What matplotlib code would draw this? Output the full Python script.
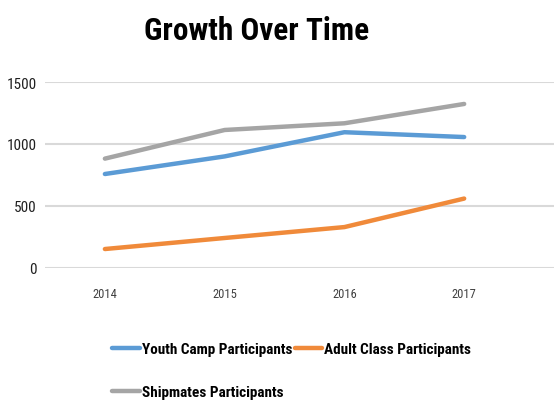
import matplotlib
matplotlib.use('Agg')
import matplotlib.pyplot as plt

years = ['2014', '2015', '2016', '2017']
youth_camp = [758, 900, 1095, 1056]
adult_class = [153, 242, 330, 560]
shipmates = [882, 1113, 1167, 1323]

plt.rcParams['font.family'] = ['Liberation Sans Narrow', 'Roboto Condensed', 'Open Sans Condensed',
                               'DejaVu Sans Condensed', 'Roboto', 'DejaVu Sans']

fig = plt.figure(figsize=(5.54, 4.02), dpi=100)
ax = fig.add_axes([45 / 554, 1 - 269 / 402, 509 / 554, 186 / 402])

x = range(len(years))
l1, = ax.plot(x, youth_camp, color='#5B9BD5', lw=3.2, solid_capstyle='round', label='Youth Camp Participants')
l2, = ax.plot(x, adult_class, color='#F08A3A', lw=3.2, solid_capstyle='round', label='Adult Class Participants')
l3, = ax.plot(x, shipmates, color='#A5A5A5', lw=3.2, solid_capstyle='round', label='Shipmates Participants')

ax.set_ylim(0, 1500)
ax.set_yticks([0, 500, 1000, 1500])
ax.set_xlim(-0.5, 3.75)
ax.set_xticks(list(x))
ax.set_xticklabels(years)
ax.grid(axis='y', color='#D9D9D9', lw=1.5)
ax.set_axisbelow(True)
for s in ax.spines.values():
    s.set_visible(False)
ax.tick_params(length=0)
ax.tick_params(axis='y', labelsize=11, pad=6)
ax.tick_params(axis='x', labelsize=9, pad=14, colors='#404040')
for t in ax.get_yticklabels():
    t.set_color('#202020')

fig.text(0.463, 0.922, 'Growth Over Time', ha='center', va='center', fontsize=22.5, fontweight='bold')

# column-major fill: youth/shipmates in col 1, adult in col 2
fig.legend([l1, l3, l2], [l1.get_label(), l3.get_label(), l2.get_label()],
           loc='upper left', bbox_to_anchor=(106 / 554, 1 - 337 / 402), ncol=2, frameon=False,
           prop={'size': 11, 'weight': 'bold'}, handlelength=1.8, handletextpad=0.15,
           columnspacing=0.15, labelspacing=1.9, borderaxespad=0)

fig.savefig('out.png', dpi=100)
